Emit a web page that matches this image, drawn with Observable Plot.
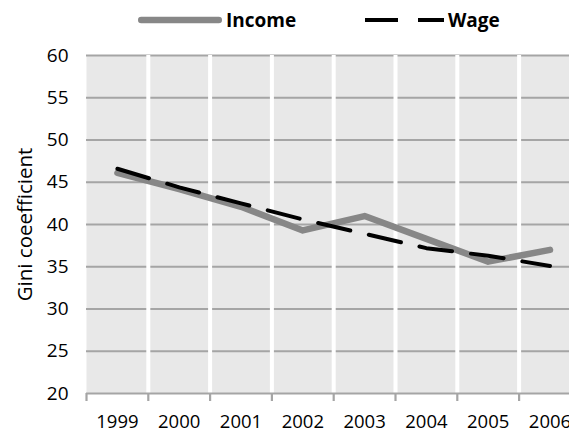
<!DOCTYPE html>
<html>
<head>
<meta charset="utf-8">
<script src="https://cdn.jsdelivr.net/npm/d3@7"></script>
<script src="https://cdn.jsdelivr.net/npm/@observablehq/plot@0.6"></script>
<style>
  html, body { margin: 0; padding: 0; background: white; overflow: hidden; width: 569px; height: 435px; }
  #legend { height: 40px; position: relative; font-family: "Open Sans", sans-serif; font-weight: bold; font-size: 19px; color: #000; }
  #legend .item { position: absolute; top: 0; height: 40px; display: flex; align-items: center; }
  #legend svg { display: block; }
</style>
</head>
<body>
<div id="legend"></div>
<div id="chart"></div>
<script>
const years = [1999, 2000, 2001, 2002, 2003, 2004, 2005, 2006];
const income = [46.1, 44.2, 42.1, 39.3, 41.0, 38.3, 35.6, 37.0];
const wage = [46.6, 44.4, 42.5, 40.6, 38.9, 37.2, 36.3, 35.1];
const yTicks = [20, 25, 30, 35, 40, 45, 50, 55, 60];
const seriesNames = ["Income", "Wage"];

const incomeColor = "#878787";
const gridColor = "#a5a5a5";

const incomeData = years.map((y, i) => ({year: y, value: income[i]}));
const wageData = years.map((y, i) => ({year: y, value: wage[i]}));
const edges = [years[0] - 0.5, ...years.map(y => y + 0.5)];
const innerEdges = edges.slice(1);

const chart = Plot.plot({
  width: 569,
  height: 395,
  marginLeft: 86,
  marginRight: 0,
  marginTop: 15,
  marginBottom: 42,
  style: {fontFamily: "Open Sans, sans-serif", fontSize: "19px", color: "#000", background: "white", overflow: "hidden"},
  x: {domain: [edges[0], edges[edges.length - 1]], range: [86, 86 + 61.8 * years.length]},
  y: {domain: [20, 60]},
  marks: [
    Plot.frame({fill: "#e8e8e8", stroke: null}),
    Plot.ruleY(yTicks.slice(1), {stroke: gridColor, strokeWidth: 2.2}),
    Plot.ruleX(innerEdges, {stroke: "white", strokeWidth: 4}),
    Plot.ruleY([20], {stroke: gridColor, strokeWidth: 2.2}),
    Plot.axisX({ticks: edges, tickSize: 8, tickFormat: () => "", label: null, stroke: gridColor, strokeWidth: 2.2}),
    Plot.axisX({ticks: years, tickSize: 0, tickPadding: 21, tickFormat: d => String(d), label: null, fontSize: 18.5}),
    Plot.axisY({ticks: yTicks, tickSize: 0, tickPadding: 18, label: null, fontSize: 19}),
    Plot.axisY({ticks: [], label: "Gini coeefficient", labelAnchor: "center", labelArrow: "none", labelOffset: 69, fontSize: 20.5}),
    Plot.line(incomeData, {x: "year", y: "value", stroke: incomeColor, strokeWidth: 6.5, strokeLinecap: "round", strokeLinejoin: "round"}),
    Plot.line(wageData, {x: "year", y: "value", stroke: "#000", strokeWidth: 4, strokeDasharray: "33,19", strokeLinejoin: "round"})
  ]
});
document.getElementById("chart").appendChild(chart);

// Legend
const legend = document.getElementById("legend");
function addItem(left, name, swatch) {
  const div = document.createElement("div");
  div.className = "item";
  div.style.left = left + "px";
  div.appendChild(swatch);
  const span = document.createElement("span");
  span.textContent = name;
  span.style.marginLeft = "4px";
  div.appendChild(span);
  legend.appendChild(div);
}
const ns = "http://www.w3.org/2000/svg";
function swatch(w, stroke, sw, dash, cap) {
  const s = document.createElementNS(ns, "svg");
  s.setAttribute("width", w); s.setAttribute("height", 12);
  const l = document.createElementNS(ns, "line");
  l.setAttribute("x1", cap === "round" ? sw / 2 : 0); l.setAttribute("x2", cap === "round" ? w - sw / 2 : w);
  l.setAttribute("y1", 6); l.setAttribute("y2", 6);
  l.setAttribute("stroke", stroke); l.setAttribute("stroke-width", sw);
  l.setAttribute("stroke-linecap", cap);
  if (dash) l.setAttribute("stroke-dasharray", dash);
  s.appendChild(l);
  return s;
}
addItem(138, seriesNames[0], swatch(84, incomeColor, 6.5, null, "round"));
addItem(365, seriesNames[1], swatch(79, "#000", 4, "33,20", "butt"));
</script>
</body>
</html>
